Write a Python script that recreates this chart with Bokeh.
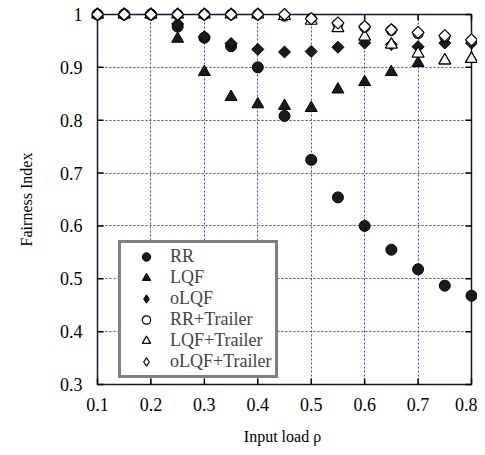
from bokeh.plotting import figure
from bokeh.models import Range1d, FixedTicker, Legend, LegendItem
from bokeh.embed import file_html
from bokeh.resources import INLINE

load = [0.1, 0.15, 0.2, 0.25, 0.3, 0.35, 0.4, 0.45, 0.5, 0.55, 0.6, 0.65, 0.7, 0.75, 0.8]
rr = [1.0, 1.0, 1.0, 0.977, 0.956, 0.940, 0.900, 0.808, 0.725, 0.654, 0.600, 0.555, 0.518, 0.487, 0.468]
lqf = [1.0, 1.0, 1.0, 0.954, 0.891, 0.844, 0.830, 0.827, 0.823, 0.858, 0.872, 0.891, 0.908, 0.913, 0.916]
olqf = [1.0, 1.0, 1.0, 0.982, 0.958, 0.945, 0.934, 0.929, 0.930, 0.938, 0.946, 0.943, 0.939, 0.946, 0.946]
rr_tr = [1.0, 1.0, 1.0, 1.0, 1.0, 1.0, 1.0, 0.997, 0.992, 0.982, 0.976, 0.970, 0.964, 0.958, 0.950]
lqf_tr = [1.0, 1.0, 1.0, 1.0, 1.0, 1.0, 1.0, 0.997, 0.988, 0.974, 0.958, 0.943, 0.926, 0.913, 0.916]
olqf_tr = [1.0, 1.0, 1.0, 1.0, 1.0, 1.0, 1.0, 1.0, 0.992, 0.984, 0.977, 0.971, 0.966, 0.960, 0.952]

x_ticks = [0.1, 0.2, 0.3, 0.4, 0.5, 0.6, 0.7, 0.8]
y_ticks = [0.3, 0.4, 0.5, 0.6, 0.7, 0.8, 0.9, 1.0]
x_labels = {0.1: "0.1", 0.2: "0.2", 0.3: "0.3", 0.4: "0.4", 0.5: "0.5", 0.6: "0.6", 0.7: "0.7", 0.8: "0.8"}
y_labels = {0.3: "0.3", 0.4: "0.4", 0.5: "0.5", 0.6: "0.6", 0.7: "0.7", 0.8: "0.8", 0.9: "0.9", 1.0: "1"}

FONT = "Liberation Serif"
XMIN, XMAX, YMIN, YMAX = 0.1, 0.8, 0.3, 1.0
XPAD, YPAD = 0.01123, 0.01317
TX, TY = 0.0112, 0.0113  # tick lengths (~6 px)

p = figure(width=477, height=447, output_backend="svg", toolbar_location=None,
           x_range=Range1d(XMIN - XPAD, XMAX + XPAD), y_range=Range1d(YMIN - YPAD, YMAX + YPAD),
           min_border_left=91, min_border_right=0, min_border_top=7, min_border_bottom=54)
p.outline_line_color = None

for ax in (p.xaxis[0], p.yaxis[0]):
    ax.axis_line_color = None
    ax.major_tick_line_color = None
    ax.minor_tick_line_color = None
    ax.major_label_text_font = FONT
    ax.major_label_text_font_size = "18px"
    ax.major_label_text_color = "black"
    ax.axis_label_text_font = FONT
    ax.axis_label_text_font_size = "16px"
    ax.axis_label_text_font_style = "normal"
    ax.axis_label_text_color = "black"

p.xaxis[0].ticker = FixedTicker(ticks=x_ticks)
p.yaxis[0].ticker = FixedTicker(ticks=y_ticks)
p.xaxis[0].major_label_overrides = x_labels
p.yaxis[0].major_label_overrides = y_labels
p.xaxis[0].axis_label = "Input load  ρ"
p.yaxis[0].axis_label = "Fairness Index"
p.xaxis[0].major_label_standoff = 0
p.xaxis[0].axis_label_standoff = 14
p.yaxis[0].major_label_standoff = 3
p.yaxis[0].axis_label_standoff = 22

for g in (p.xgrid[0], p.ygrid[0]):
    g.grid_line_color = "#3c3cff"
    g.grid_line_dash = "2 2"
    g.grid_line_width = 1
p.xgrid[0].ticker = FixedTicker(ticks=x_ticks)
p.ygrid[0].ticker = FixedTicker(ticks=y_ticks)
try:
    p.xgrid[0].cross_bounds = (YMIN, YMAX)
    p.ygrid[0].cross_bounds = (XMIN, XMAX)
except AttributeError:
    pass

# frame box and inward ticks on all four sides
p.quad(left=[XMIN], right=[XMAX], bottom=[YMIN], top=[YMAX],
       fill_color=None, line_color="#15153a", line_width=1.5)
tx0 = [XMIN] * len(y_ticks) + [XMAX] * len(y_ticks) + x_ticks + x_ticks
tx1 = [XMIN + TX] * len(y_ticks) + [XMAX - TX] * len(y_ticks) + x_ticks + x_ticks
ty0 = y_ticks + y_ticks + [YMIN] * len(x_ticks) + [YMAX] * len(x_ticks)
ty1 = y_ticks + y_ticks + [YMIN + TY] * len(x_ticks) + [YMAX - TY] * len(x_ticks)
p.segment(x0=tx0, y0=ty0, x1=tx1, y1=ty1, line_color="black", line_width=1.5)

ANG = 0.785398
r1 = p.scatter(load, rr, marker="circle", size=11, fill_color="#1a1a1a", line_color="black")
r2 = p.scatter(load, lqf, marker="triangle", size=12, fill_color="#1a1a1a", line_color="black")
r3 = p.scatter(load, olqf, marker="square", angle=ANG, size=8.5, fill_color="#1a1a1a", line_color="black")
r4 = p.scatter(load, rr_tr, marker="circle", size=10, fill_color="white", line_color="black", line_width=1.2)
r5 = p.scatter(load, lqf_tr, marker="triangle", size=12, fill_color="white", line_color="black", line_width=1.2)
r6 = p.scatter(load, olqf_tr, marker="square", angle=ANG, size=8.5, fill_color="white", line_color="black", line_width=1.2)

# legend-only diamond glyphs (the legend ignores marker rotation)
nan = float("nan")
d3 = p.scatter([nan], [nan], marker="diamond", size=12, fill_color="#1a1a1a", line_color="black")
d6 = p.scatter([nan], [nan], marker="diamond", size=12, fill_color="white", line_color="black", line_width=1.2)

legend = Legend(items=[
    LegendItem(label="RR", renderers=[r1]),
    LegendItem(label="LQF", renderers=[r2]),
    LegendItem(label="oLQF", renderers=[d3]),
    LegendItem(label="RR+Trailer", renderers=[r4]),
    LegendItem(label="LQF+Trailer", renderers=[r5]),
    LegendItem(label="oLQF+Trailer", renderers=[d6]),
], location=(27, 13))
legend.border_line_color = "black"
legend.border_line_width = 3
legend.background_fill_alpha = 1
legend.label_text_font = FONT
legend.label_text_font_size = "18px"
legend.label_height = 21
legend.glyph_height = 21
legend.glyph_width = 44
legend.spacing = 0
legend.padding = 3
legend.margin = 0
legend.label_standoff = 2
p.add_layout(legend)

open("out.html", "w").write(file_html(p, INLINE))
